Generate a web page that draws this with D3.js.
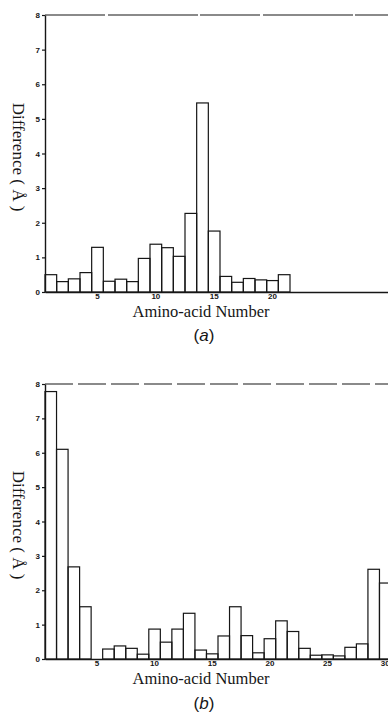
<!DOCTYPE html>
<html>
<head>
<meta charset="utf-8">
<script src="https://cdn.jsdelivr.net/npm/d3@7"></script>
<style>
  body { margin: 0; background: #fff; }
  svg { display: block; }
</style>
</head>
<body>
<svg id="chart" width="388" height="721"></svg>
<script>
// panel (a)
const residuesA = [1,2,3,4,5,6,7,8,9,10,11,12,13,14,15,16,17,18,19,20,21];
const diffA = [0.5,0.3,0.38,0.56,1.29,0.31,0.37,0.3,0.97,1.38,1.28,1.03,2.27,5.46,1.76,0.45,0.28,0.39,0.35,0.33,0.5];
// panel (b)
const residuesB = [1,2,3,4,5,6,7,8,9,10,11,12,13,14,15,16,17,18,19,20,21,22,23,24,25,26,27,28,29,30];
const diffB = [7.78,6.1,2.68,1.52,0,0.29,0.38,0.31,0.14,0.87,0.49,0.87,1.33,0.26,0.15,0.67,1.52,0.68,0.18,0.59,1.11,0.8,0.31,0.11,0.12,0.09,0.34,0.44,2.61,2.21];

const axisSlots = [1,2,3,4,5,6,7,8,9,10,11,12,13,14,15,16,17,18,19,20,21,22,23,24,25,26,27,28,29,30];
const yTicks = [0,1,2,3,4,5,6,7,8];
const xTicksA = [5,10,15,20];
const xTicksB = [5,10,15,20,25,30];

const ink = "#161616";
const svg = d3.select("#chart");

const drawPanel = (cfg) => {
  const {residues, values, xTicks, top, bottom, right, xLabelY, tag, tagY, topDash, yMid} = cfg;
  const g = svg.append("g");

  const x = d3.scaleBand().domain(axisSlots).range([45, right]).padding(0);
  const y = d3.scaleLinear().domain([0, 8]).range([bottom, top]);

  // frame line at the top of the value range
  g.append("line")
    .attr("x1", 45).attr("x2", 388)
    .attr("y1", y(8)).attr("y2", y(8))
    .attr("stroke", ink).attr("stroke-width", 1.2)
    .attr("stroke-dasharray", topDash);

  // bars
  g.selectAll("rect.bar")
    .data(residues.map((r, i) => ({r, v: values[i]})).filter(d => d.v > 0))
    .join("rect")
    .attr("class", "bar")
    .attr("x", d => x(d.r))
    .attr("width", x.bandwidth())
    .attr("y", d => y(d.v))
    .attr("height", d => y(0) - y(d.v))
    .attr("fill", "none")
    .attr("stroke", ink)
    .attr("stroke-width", 1.2);

  // axes
  const yAxis = g.append("g")
    .attr("transform", `translate(45,0)`)
    .call(d3.axisLeft(y).tickValues(yTicks).tickSize(3).tickSizeOuter(0).tickPadding(2));
  const xAxis = g.append("g")
    .attr("transform", `translate(0,${y(0)})`)
    .call(d3.axisBottom(x).tickValues(xTicks).tickSize(0).tickSizeOuter(0).tickPadding(1));

  [yAxis, xAxis].forEach(a => {
    a.select(".domain").attr("stroke", ink).attr("stroke-width", 1.4);
    a.selectAll(".tick line").attr("stroke", ink).attr("stroke-width", 1.2);
    a.selectAll(".tick text")
      .attr("fill", ink)
      .attr("font-family", "Liberation Sans, Arial, sans-serif")
      .attr("font-weight", "bold")
      .attr("font-size", 8);
  });

  // y title
  g.append("text")
    .attr("transform", `translate(13,${yMid}) rotate(90)`)
    .attr("text-anchor", "middle")
    .attr("font-family", "Liberation Serif, Times New Roman, serif")
    .attr("font-size", 17)
    .attr("fill", ink)
    .text("Difference ( Å )");

  // x title
  g.append("text")
    .attr("x", 201).attr("y", xLabelY)
    .attr("text-anchor", "middle")
    .attr("font-family", "Liberation Serif, Times New Roman, serif")
    .attr("font-size", 16.5)
    .attr("fill", ink)
    .text("Amino-acid Number");

  // panel tag
  const t = g.append("text")
    .attr("x", 204).attr("y", tagY)
    .attr("text-anchor", "middle")
    .attr("font-family", "Liberation Sans, Arial, sans-serif")
    .attr("font-size", 17)
    .attr("fill", ink);
  t.append("tspan").text("(");
  t.append("tspan").attr("font-style", "italic").text(tag);
  t.append("tspan").text(")");
};

drawPanel({residues: residuesA, values: diffA, xTicks: xTicksA,
  top: 15, bottom: 292, right: 395, xLabelY: 317, tag: "a", tagY: 341, topDash: "60,3,90,2", yMid: 157});
drawPanel({residues: residuesB, values: diffB, xTicks: xTicksB,
  top: 384, bottom: 659, right: 391, xLabelY: 684, tag: "b", tagY: 709, topDash: "28,5", yMid: 525});
</script>
</body>
</html>
